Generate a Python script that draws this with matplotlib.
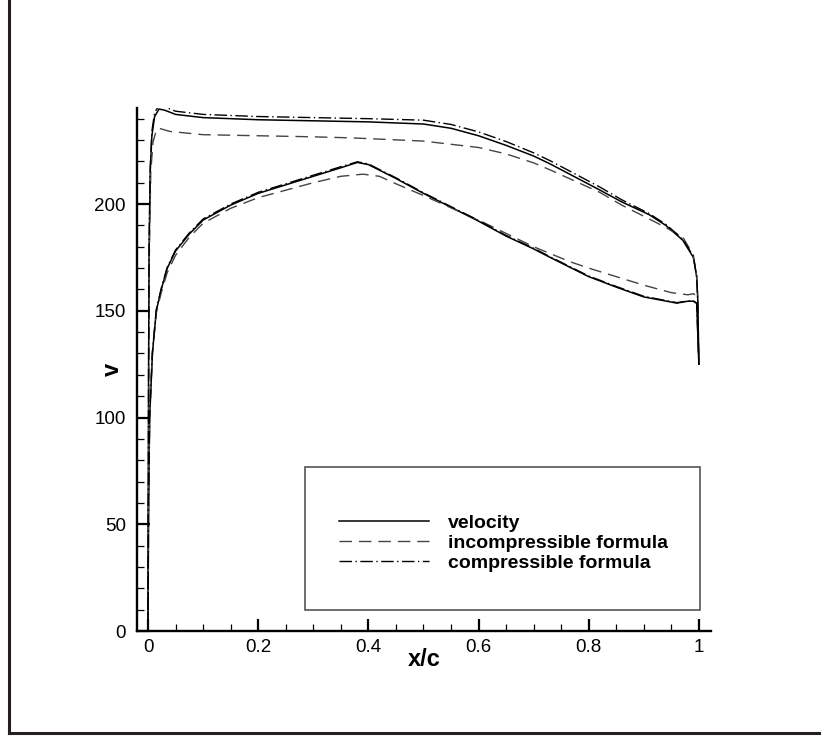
"""Surface velocity vs. incompressible / compressible formula along the chord."""

import matplotlib

matplotlib.use("Agg")

import matplotlib.pyplot as plt
from matplotlib.lines import Line2D
from matplotlib.patches import Rectangle
from matplotlib.ticker import FuncFormatter, MultipleLocator

plt.rcParams["font.family"] = ["Liberation Sans", "DejaVu Sans"]

# --- upper surface ---
X_UP = [0.0, 0.001, 0.002, 0.004, 0.007, 0.012, 0.02, 0.03, 0.05, 0.1,
        0.2, 0.3, 0.4, 0.5, 0.55, 0.6, 0.65, 0.7, 0.73, 0.82, 0.86, 0.91,
        0.94, 0.971, 0.99, 0.996, 0.998, 1.0]
V_UP = [0, 120, 180, 215, 232, 241, 244.5, 244, 242, 240.5,
        239.5, 239, 238.5, 237.5, 235.5, 232, 227.5, 222.5, 218.8, 206.6,
        201, 195, 190, 183, 175, 166, 155, 125]
COMP_UP = [0, 122, 182, 217, 234, 243, 246, 245.5, 243.5, 242,
           241, 240.5, 240, 239.3, 237.3, 233.8, 229.3, 224, 220.3, 208,
           202, 195.5, 190.5, 183.5, 175.5, 166, 155, 125]

X_INC_UP = [0.0, 0.002, 0.005, 0.009, 0.015, 0.02, 0.04, 0.1, 0.2, 0.3,
            0.37, 0.5, 0.6, 0.65, 0.7, 0.73, 0.82, 0.86, 0.91, 0.94,
            0.971, 0.99, 0.996, 0.998]
INC_UP = [0, 170, 215, 229, 234.5, 235.5, 234, 232.5, 232, 231.5,
          231, 229.5, 226.5, 223.5, 219.3, 216, 205.5, 199.5, 193, 189,
          184.5, 176, 166, 157]

# --- lower surface ---
X_LO = [0.0, 0.001, 0.003, 0.008, 0.015, 0.024, 0.035, 0.05, 0.075, 0.1,
        0.15, 0.2, 0.25, 0.3, 0.35, 0.38, 0.4, 0.45, 0.5, 0.55,
        0.6, 0.65, 0.7, 0.73, 0.8, 0.851, 0.9, 0.96, 0.98, 0.99,
        0.996, 1.0]
V_LO = [0, 60, 100, 130, 150, 160, 170, 178, 186, 192.5,
        199.5, 205, 209, 213, 217, 219.5, 218.5, 212, 205, 198.5,
        192, 185, 179, 175, 166, 161, 156.5, 153.6, 154.5, 154.5,
        153.5, 125]
COMP_LO = [0, 61, 101, 131, 150.5, 160.5, 170.5, 178.5, 186.5, 193,
           200, 205.5, 209.5, 213.5, 217.5, 219.8, 218.8, 212.3, 205.3, 198.8,
           192.3, 185.3, 179.3, 175.3, 166.3, 161.3, 156.8, 153.8, 154.6, 154.6,
           153.6, 125]

X_INC_LO = [0.0, 0.001, 0.003, 0.008, 0.015, 0.024, 0.035, 0.05, 0.075, 0.1,
            0.15, 0.2, 0.3, 0.35, 0.39, 0.42, 0.45, 0.5, 0.6, 0.7,
            0.766, 0.8, 0.85, 0.9, 0.95, 0.98, 0.99, 0.996]
INC_LO = [0, 60, 100, 130, 149, 158.5, 168, 176, 184.5, 191,
          198, 203, 210, 213, 214, 213, 209.5, 204, 192.5, 180,
          173, 170, 166, 162, 158.5, 157.5, 158, 157]

X_TICKS = [0, 0.2, 0.4, 0.6, 0.8, 1]
Y_TICKS = [0, 50, 100, 150, 200]

LABELS = ["velocity", "incompressible formula", "compressible formula"]

W, H, DPI = 821, 736, 100
AX_L, AX_R, AX_T, AX_B = 137, 711, 108, 631
AX_W, AX_H = AX_R - AX_L, AX_B - AX_T

fig = plt.figure(figsize=(W / DPI, H / DPI), dpi=DPI)

# outer frame (left and bottom lines of the exported page)
fig.add_artist(Line2D([9 / W, 9 / W], [3 / H, 1.0], color="#231f20", lw=2.2))
fig.add_artist(Line2D([9 / W, 1.0], [3 / H, 3 / H], color="#231f20", lw=2.2))

ax = fig.add_axes([AX_L / W, (H - AX_B) / H, AX_W / W, AX_H / H])

solid = dict(color="black", lw=1.1, ls="-")
dashed = dict(color="#444444", lw=1.0, ls=(0, (9, 5)))
dashdot = dict(color="black", lw=1.0, ls=(0, (9, 2.5, 1, 2.5)))

ax.plot(X_UP, V_UP, **solid)
ax.plot(X_LO, V_LO, **solid)
ax.plot(X_INC_UP, INC_UP, **dashed)
ax.plot(X_INC_LO, INC_LO, **dashed)
ax.plot(X_UP, COMP_UP, **dashdot)
ax.plot(X_LO, COMP_LO, **dashdot)

ax.set_xlim(-0.02, 1.022)
ax.set_ylim(0, 245)

for side in ("top", "right"):
    ax.spines[side].set_visible(False)
for side in ("left", "bottom"):
    ax.spines[side].set_linewidth(1.7)

ax.set_xticks(X_TICKS)
ax.set_yticks(Y_TICKS)
ax.xaxis.set_minor_locator(MultipleLocator(0.05))
ax.yaxis.set_minor_locator(MultipleLocator(10))
fmt = FuncFormatter(lambda v, _: f"{v:g}")
ax.xaxis.set_major_formatter(fmt)
ax.yaxis.set_major_formatter(fmt)
ax.tick_params(which="major", direction="in", length=9, width=1.6,
               labelsize=13.5, pad=6)
ax.tick_params(which="minor", direction="in", length=5, width=0.9)
ax.tick_params(axis="y", which="major", pad=8)

ax.set_xlabel("x/c", fontsize=17, fontweight="bold")
ax.set_ylabel("v", fontsize=17, fontweight="bold")
ax.xaxis.set_label_coords(0.5, -(671 - AX_B) / AX_H, transform=ax.transAxes)
ax.xaxis.label.set_va("bottom")
ax.yaxis.set_label_coords(-(AX_L - 124) / AX_W, 0.5, transform=ax.transAxes)
ax.yaxis.label.set_va("bottom")

# legend box
ax.add_patch(Rectangle(((305 - AX_L) / AX_W, (AX_B - 610) / AX_H),
                       (700 - 305) / AX_W, (610 - 467) / AX_H,
                       transform=ax.transAxes, fill=False,
                       edgecolor="#555555", lw=1.2, zorder=3))
handles = [Line2D([], [], **solid), Line2D([], [], **dashed),
           Line2D([], [], **dashdot)]
leg = ax.legend(handles, LABELS, loc="center left",
                bbox_to_anchor=((339 - AX_L) / AX_W - 0.03,
                                (AX_B - 543) / AX_H),
                frameon=False, prop=dict(weight="bold", size=14),
                handlelength=4.6, handletextpad=1.0, labelspacing=0.12)

fig.savefig("out.png", dpi=DPI)
